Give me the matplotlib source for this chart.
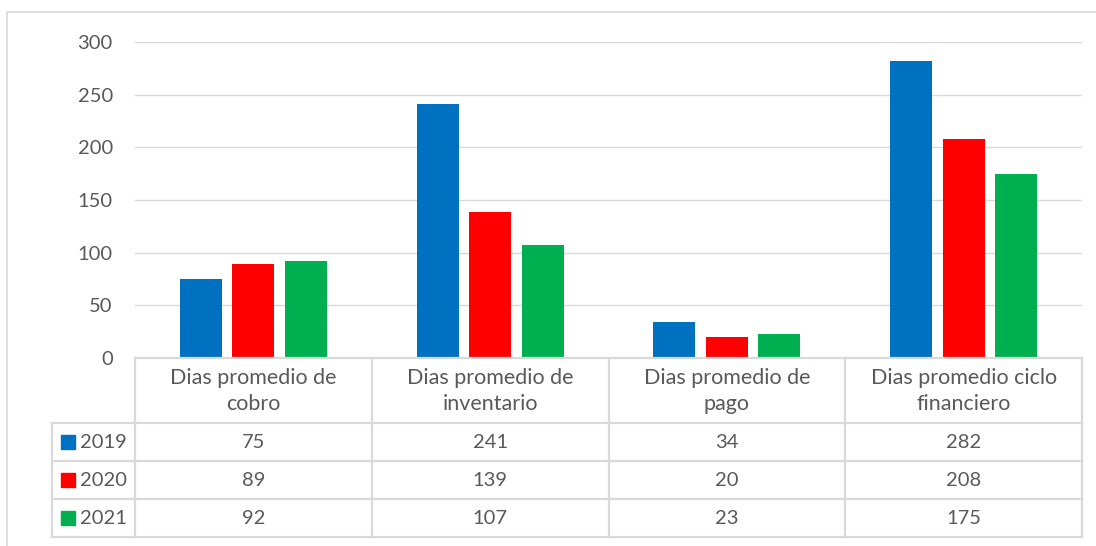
import matplotlib.pyplot as plt
import matplotlib.patches as mpatches
import numpy as np

plt.rcParams['font.family'] = ['Lato', 'DejaVu Sans']

categorias = ["Dias promedio de\ncobro", "Dias promedio de\ninventario",
              "Dias promedio de\npago", "Dias promedio ciclo\nfinanciero"]
anios = ["2019", "2020", "2021"]
v2019 = [75, 241, 34, 282]
v2020 = [89, 139, 20, 208]
v2021 = [92, 107, 23, 175]
series = [v2019, v2020, v2021]
colores = ['#0070C0', '#FF0000', '#00B050']

texto = '#595959'
linea = '#D9D9D9'
W, H = 1096, 546

fig = plt.figure(figsize=(W / 100, H / 100), dpi=100)

# chart border (cropped on the right and bottom)
fig.patches.append(mpatches.Rectangle((7 / W, -0.05), 1.2, (H - 12) / H + 0.05,
                                      transform=fig.transFigure, fill=False,
                                      edgecolor=linea, linewidth=1.2))

x0, x1 = 135, 1082
ax = fig.add_axes([x0 / W, (H - 358) / H, (x1 - x0) / W, (358 - 42) / H])
x = np.arange(len(categorias))
ancho = 0.177
paso = 0.222
for i, (vals, c) in enumerate(zip(series, colores)):
    ax.bar(x + (i - 1) * paso, vals, width=ancho, color=c, zorder=3)

ax.set_xlim(-0.5, len(categorias) - 0.5)
ax.set_ylim(0, 300)
ax.set_yticks(range(0, 301, 50))
ax.yaxis.grid(True, color=linea, linewidth=1.0, zorder=0)
ax.tick_params(axis='y', length=0, pad=16, labelsize=14.5, labelcolor=texto)
ax.set_xticks([])
for s in ax.spines.values():
    s.set_visible(False)

# data table under the chart
cab, fila = 65, 38
tab = fig.add_axes([x0 / W, (H - 358 - cab - 3 * fila) / H,
                    (x1 - x0) / W, (cab + 3 * fila) / H])
tab.set_xlim(-0.5, len(categorias) - 0.5)
tab.set_ylim(cab + 3 * fila, 0)
tab.axis('off')
izq = -0.5 - (x0 - 52) / (x1 - x0) * len(categorias)
px = len(categorias) / (x1 - x0)
lw = 1.6
kw = dict(color=linea, linewidth=lw, clip_on=False, solid_capstyle='projecting')

tab.plot([-0.5, 3.5], [0, 0], **kw)
for k in range(4):
    y = cab + k * fila
    tab.plot([izq, 3.5], [y, y], **kw)
for j in range(len(categorias) + 1):
    tab.plot([j - 0.5, j - 0.5], [0, cab + 3 * fila], **kw)
tab.plot([izq, izq], [cab, cab + 3 * fila], **kw)

for j, cat in enumerate(categorias):
    tab.text(j, cab / 2 + 0.5, cat, ha='center', va='center', fontsize=15.5,
             color=texto, linespacing=1.38)

for i, (anio, vals, c) in enumerate(zip(anios, series, colores)):
    yc = cab + (i + 0.5) * fila
    tab.add_patch(mpatches.Rectangle((izq + 9 * px, yc - 7), 14 * px, 14,
                                     color=c, clip_on=False))
    tab.text(izq + 28 * px, yc, anio, ha='left', va='center',
             fontsize=14.5, color=texto)
    for j, v in enumerate(vals):
        tab.text(j, yc, str(v), ha='center', va='center', fontsize=14.5,
                 color=texto)

fig.savefig('out.png', dpi=100)
